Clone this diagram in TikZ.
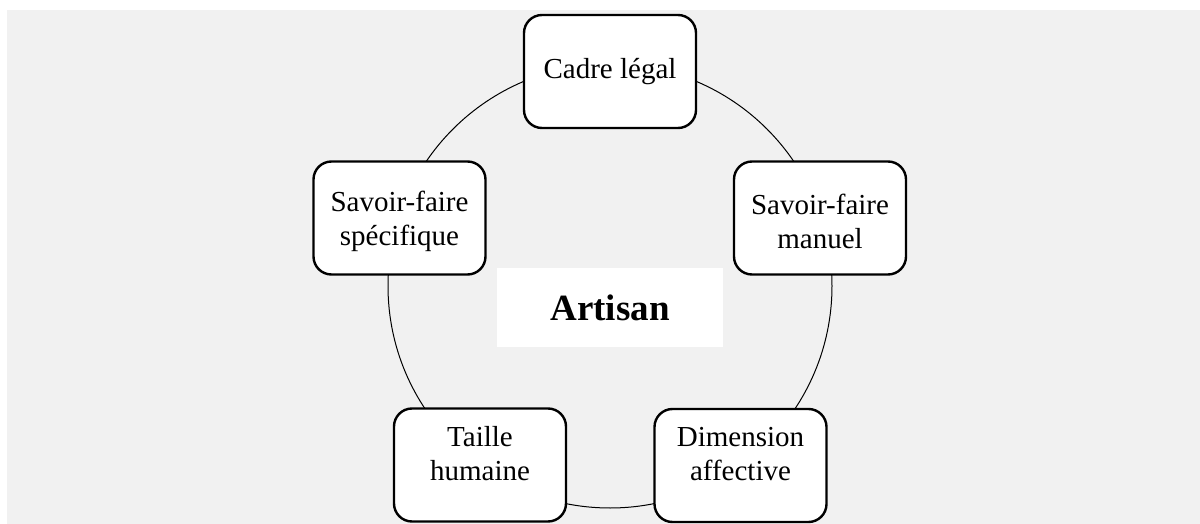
\documentclass[tikz,border=0pt]{standalone}
\usepackage{fontspec}
\setmainfont{Liberation Serif}
\begin{document}
\begin{tikzpicture}[x=1pt,y=-1pt,
  item/.style={draw=black, fill=white, line width=2.4pt, rounded corners=18pt,
    minimum width=172pt, minimum height=113pt, inner sep=0pt, align=center,
    font=\fontsize{29}{34}\selectfont},
  lowitem/.style={item, text depth=24pt},
  sideitem/.style={item, text height=62pt},
  ring/.style={draw=black, line width=1pt},
  centerbox/.style={fill=white, minimum width=226pt, minimum height=79pt,
    inner sep=0pt, font=\fontsize{37}{40}\selectfont\bfseries}]
\useasboundingbox (0,0) rectangle (1200,524);
\fill[white] (0,0) rectangle (1200,524);
\fill[fill={rgb,255:red,241;green,241;blue,241}] (7,10) rectangle (1200,524);
\coordinate (c) at (610,286);
\draw[ring] (c) circle[radius=222pt];
\node[centerbox] (artisan) at (610,307.5) {Artisan};
\node[item] (cadre) at (610,71.5) {Cadre légal};
\node[sideitem] (sfs) at (399.5,218) {Savoir-faire\\spécifique};
\node[sideitem] (sfm) at (820,218) {Savoir-faire\\manuel};
\node[lowitem] (taille) at (480,465) {Taille\\humaine};
\node[lowitem] (dim) at (740.5,465.5) {Dimension\\affective};
\end{tikzpicture}
\end{document}
